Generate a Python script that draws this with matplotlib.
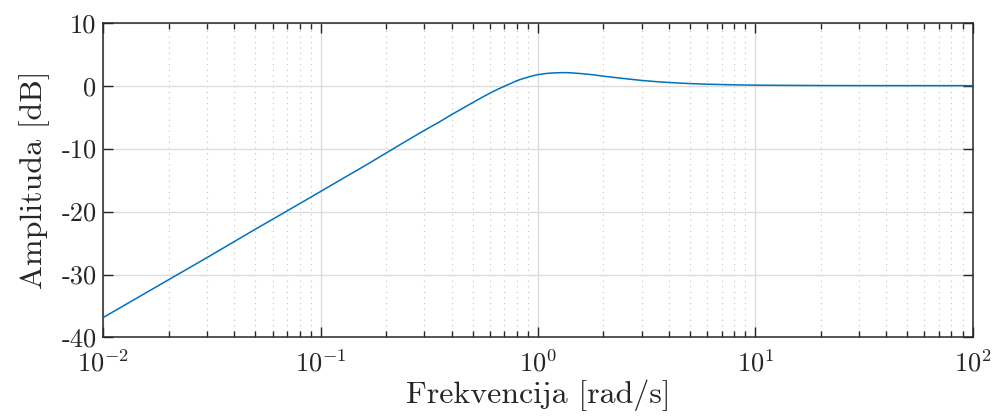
import matplotlib
matplotlib.use("Agg")
import matplotlib.pyplot as plt
from matplotlib.ticker import LogLocator, NullFormatter

# Bode magnitude values
freq = [0.01, 0.02, 0.03, 0.05, 0.07, 0.1, 0.13, 0.16, 0.2, 0.25, 0.3, 0.35,
        0.4, 0.45, 0.5, 0.55, 0.6, 0.65, 0.7, 0.75, 0.8, 0.85, 0.9, 0.95,
        1.0, 1.1, 1.2, 1.3, 1.4, 1.6, 1.8, 2.0, 2.5, 3.0, 3.5, 4.0, 5.0,
        6.0, 8.0, 10.0, 15.0, 20.0, 40.0, 100.0]
mag_db = [-36.8, -30.8, -27.3, -22.8, -19.9, -16.8, -14.5, -12.7, -10.7, -8.7,
          -7.1, -5.8, -4.6, -3.6, -2.7, -1.9, -1.2, -0.6, -0.1, 0.35, 0.8,
          1.1, 1.35, 1.58, 1.75, 1.95, 2.04, 2.07, 2.05, 1.9, 1.72, 1.5, 1.12,
          0.83, 0.64, 0.5, 0.33, 0.23, 0.13, 0.08, 0.04, 0.02, 0.005, 0.0]

xticks = [1e-2, 1e-1, 1e0, 1e1, 1e2]
xticklabels = ["$10^{-2}$", "$10^{-1}$", "$10^{0}$", "$10^{1}$", "$10^{2}$"]
yticks = [-40, -30, -20, -10, 0, 10]
yticklabels = ["-40", "-30", "-20", "-10", "0", "10"]

plt.rcParams["font.family"] = "serif"
plt.rcParams["font.serif"] = ["cmr10", "DejaVu Serif"]
plt.rcParams["mathtext.fontset"] = "cm"
plt.rcParams["axes.unicode_minus"] = False

fig = plt.figure(figsize=(9.93, 4.18), dpi=100)
ax = fig.add_axes([0.1042, 0.1926, 0.8752, 0.7531])

ax.semilogx(freq, mag_db, color="#0072BD", linewidth=1.1, zorder=3)

ax.set_xlim(1e-2, 1e2)
ax.set_ylim(-40, 10)
ax.set_xticks(xticks)
ax.set_xticklabels(xticklabels)
ax.xaxis.set_minor_locator(LogLocator(base=10, subs=range(2, 10), numticks=20))
ax.xaxis.set_minor_formatter(NullFormatter())
ax.set_yticks(yticks)
ax.set_yticklabels(yticklabels)

ax.grid(True, which="major", color="#dddddd", linewidth=1.0, linestyle="-", zorder=0)
ax.grid(True, which="minor", axis="x", color="#c0c0c0", linewidth=0.8,
        linestyle=(0, (1, 4)), zorder=0)

ax.tick_params(which="both", direction="in", top=True, right=True,
               colors="#262626", labelsize=19, width=1.0)
ax.tick_params(which="major", length=7)
ax.tick_params(axis="y", which="major", pad=5)
ax.tick_params(axis="x", which="major", pad=9)
ax.tick_params(which="minor", length=4)
for s in ax.spines.values():
    s.set_color("#262626")
    s.set_linewidth(1.1)

ax.set_xlabel("Frekvencija [rad/s]", fontsize=23, color="#262626", labelpad=2)
ax.set_ylabel("Amplituda [dB]", fontsize=23, color="#262626", labelpad=8)

fig.savefig("out.png", dpi=100)
